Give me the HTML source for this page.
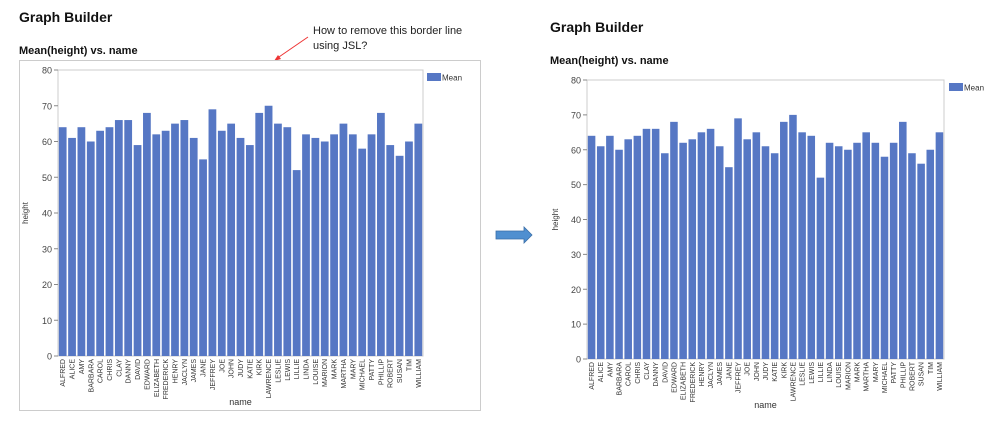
<!DOCTYPE html>
<html><head><meta charset="utf-8"><style>
html,body{margin:0;padding:0;background:#fff;width:999px;height:422px;overflow:hidden}
svg{display:block}
</style></head><body>
<svg id="s" width="999" height="422" xmlns="http://www.w3.org/2000/svg" font-family="Liberation Sans, sans-serif">
<text x="19" y="22" font-size="14" font-weight="bold" fill="#111">Graph Builder</text>
<text x="19" y="54" font-size="11" font-weight="bold" fill="#111">Mean(height) vs. name</text>
<text x="313" y="34" font-size="11" fill="#222">How to remove this border line</text>
<text x="313" y="49" font-size="11" fill="#222">using JSL?</text>
<line x1="308" y1="37" x2="276" y2="59" stroke="#e33" stroke-width="1"/>
<polygon points="274,61 278,55 281,59" fill="#e33"/>
<rect x="19.5" y="60.5" width="461" height="350" fill="none" stroke="#ccc"/>
<text x="550" y="32" font-size="14" font-weight="bold" fill="#111">Graph Builder</text>
<text x="550" y="64" font-size="11" font-weight="bold" fill="#111">Mean(height) vs. name</text>
<polygon points="496,231 524,231 524,227 532,235 524,243 524,239 496,239" fill="#4f8fd0" stroke="#3a6fa8" stroke-width="0.8"/>
<g id="g"></g>
</svg>
<script>
var names=["ALFRED","ALICE","AMY","BARBARA","CAROL","CHRIS","CLAY","DANNY","DAVID","EDWARD","ELIZABETH","FREDERICK","HENRY","JACLYN","JAMES","JANE","JEFFREY","JOE","JOHN","JUDY","KATIE","KIRK","LAWRENCE","LESLIE","LEWIS","LILLIE","LINDA","LOUISE","MARION","MARK","MARTHA","MARY","MICHAEL","PATTY","PHILLIP","ROBERT","SUSAN","TIM","WILLIAM"];
var v=[64,61,64,60,63,64,66,66,59,68,62,63,65,66,61,55,69,63,65,61,59,68,70,65,64,52,62,61,60,62,65,62,58,62,68,59,56,60,65];
function chart(L,R,T,B,ylab,xlabY,legX,legY){
 var h='',s=(B-T)/80,w=(R-L)/names.length;
 h+='<rect x="'+L+'" y="'+T+'" width="'+(R-L)+'" height="'+(B-T)+'" fill="none" stroke="#ccc"/>';
 for(var i=0;i<names.length;i++){
  var x=L+i*w+0.8,y=B-v[i]*s;
  h+='<rect x="'+x.toFixed(2)+'" y="'+y.toFixed(2)+'" width="'+(w-1.6).toFixed(2)+'" height="'+(B-y).toFixed(2)+'" fill="#5677c4"/>';
  var cx=L+i*w+w/2+2.5;
  h+='<text transform="translate('+cx.toFixed(2)+','+(B+3)+') rotate(-90)" text-anchor="end" font-size="7" fill="#333">'+names[i]+'</text>';
 }
 for(var k=0;k<=80;k+=10){
  var yy=B-k*s;
  h+='<line x1="'+(L-4)+'" y1="'+yy+'" x2="'+L+'" y2="'+yy+'" stroke="#888"/>';
  h+='<text x="'+(L-6)+'" y="'+(yy+3.5)+'" text-anchor="end" font-size="9" fill="#444">'+k+'</text>';
 }
 h+='<text transform="translate('+(ylab)+','+((T+B)/2)+') rotate(-90)" text-anchor="middle" font-size="8" fill="#333">height</text>';
 h+='<text x="'+((L+R)/2)+'" y="'+xlabY+'" text-anchor="middle" font-size="9" fill="#333">name</text>';
 h+='<rect x="'+legX+'" y="'+legY+'" width="14" height="8" fill="#5677c4"/>';
 h+='<text x="'+(legX+15)+'" y="'+(legY+7.5)+'" font-size="8" fill="#333">Mean</text>';
 return h;
}
document.getElementById('g').innerHTML=chart(58,423,70,356,28,405,427,73)+chart(587,944,80,359,558,408,949,83);
</script>
</body></html>
